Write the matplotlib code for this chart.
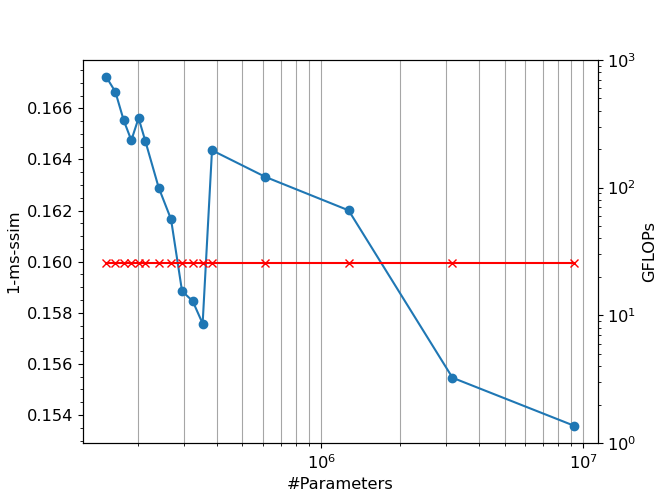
import numpy as np
import matplotlib
matplotlib.use('Agg')
import matplotlib.pyplot as plt

plt.rcParams['font.size'] = 11.7

params = [1.515e5, 1.639e5, 1.764e5, 1.886e5, 2.01e5, 2.133e5, 2.398e5, 2.673e5,
          2.944e5, 3.232e5, 3.528e5, 3.83e5, 6.116e5, 1.271e6, 3.166e6, 9.22e6]
ms_ssim = [0.16722, 0.16665, 0.16553, 0.16475, 0.16562, 0.16472, 0.16290, 0.16166,
           0.15885, 0.15846, 0.15758, 0.16436, 0.16332, 0.16201, 0.15546, 0.15358]
gflops = [25.9] * len(params)

fig, ax1 = plt.subplots(figsize=(6.64, 4.98), dpi=100)
ax1.plot(params, ms_ssim, 'o-', color='C0')
ax1.set_xscale('log')
ax1.set_xlabel('#Parameters')
ax1.set_ylabel('1-ms-ssim')
ax1.minorticks_on()
ax1.grid(True, which='both', axis='x', color='gray', alpha=0.7)

ax2 = ax1.twinx()
ax2.plot(params, gflops, 'rx-')
ax2.set_yscale('log')
ax2.set_ylim(1, 1000)
ax2.set_ylabel('GFLOPs')

plt.savefig('out.png')
